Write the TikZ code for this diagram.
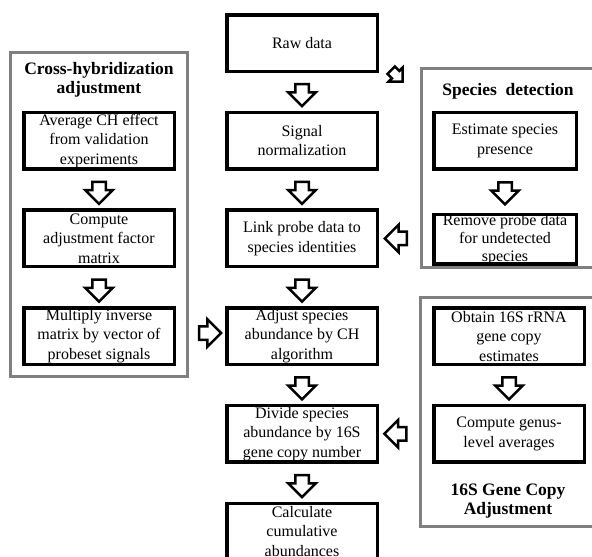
\documentclass[tikz,border=0pt]{standalone}
\usepackage{fontspec}
\setmainfont{Liberation Serif}
\usetikzlibrary{positioning,calc,fit,shapes.arrows}
\definecolor{framegray}{RGB}{128,128,128}

\begin{document}
\begin{tikzpicture}[x=1pt, y=-1pt, node distance=37.7pt and 49pt,
		font=\fontsize{16}{19.5}\selectfont,
		procbox/.style={draw=black, rectangle, line width=3.5pt, minimum width=150.5pt, minimum height=56.5pt, inner sep=0pt, align=center},
		groupframe/.style={draw=framegray, rectangle, line width=3pt, inner sep=0pt},
		grouptitle/.style={draw=none, align=center, font=\fontsize{17.5}{19.5}\selectfont\bfseries},
		blockarrow/.style={single arrow, draw=black, fill=white, line width=2.5pt, minimum height=22pt, inner xsep=0pt, inner ysep=5.5pt, single arrow head extend=7pt},
		smallarrow/.style={blockarrow, minimum height=16pt, inner ysep=4pt, single arrow head extend=4.5pt}
		]
		\clip (0,0) rectangle (592,557);
		
		% main column
		\node[procbox](raw) at (302,43) {Raw data};
		\node[procbox](sig) [below=of raw] {Signal\\normalization};
		\node[procbox](link) [below=of sig] {Link probe data to\\species identities};
		\node[procbox](adj) [below=of link] {Adjust species\\abundance by CH\\algorithm};
		\node[procbox](div) [below=of adj] {Divide species\\abundance by 16S\\gene copy number};
		\node[procbox](calc) [below=of div] {Calculate\\cumulative\\abundances};
		
		% cross-hybridization
		\node[groupframe, fit={(10,52) (187,376)}] (chframe) {};
		\node[grouptitle](chtitle) at (99,80) {Cross-hybridization\\adjustment};
		\node[procbox](avg) [left=of sig] {Average CH effect\\from validation\\experiments};
		\node[procbox](comp) [below=of avg] {Compute\\adjustment factor\\matrix};
		\node[procbox](mult) [below=of comp] {Multiply inverse\\matrix by vector of\\probeset signals};
		
		% species detection
		\node[groupframe, fit={(421,68) (600,267)}] (sdframe) {};
		\node[grouptitle](sdtitle) at (508,91) {Species\ \ detection};
		\node[procbox, minimum width=142.5pt](est) [right=of sig, xshift=4pt] {Estimate species\\presence};
		\node[procbox, minimum width=142.5pt, minimum height=49.5pt, label={[align=center, font=\fontsize{16}{18}\selectfont]center:Remove probe data\\for undetected\\species}](rem) [below=of est, yshift=-4.3pt] {};
		
		% 16S copy number
		\node[groupframe, fit={(420,297) (600,526)}] (cnframe) {};
		\node[grouptitle](cntitle) at (508,501) {16S Gene Copy\\Adjustment};
		\node[procbox](obt) [right=of adj, xshift=4pt] {Obtain 16S rRNA\\gene copy\\estimates};
		\node[procbox](cgen) [below=of obt] {Compute genus-\\level averages};
		
		% block arrows
		\foreach \a/\b in {raw/sig, sig/link, link/adj, adj/div, div/calc, avg/comp, comp/mult, est/rem, obt/cgen}
			\node[blockarrow, rotate=-90](arr-\a) at ($(\a)!0.5!(\b)$) {};
		\node[smallarrow, rotate=-45](arr-sd) at ($(raw.south east)!0.5!(sdframe.north west)$) [yshift=-6pt] {};
		\node[blockarrow, rotate=180](arr-rem) at ($(link.east)!0.5!(sdframe.west |- link)$) {};
		\node[blockarrow](arr-mult) at ($(chframe.east |- adj)!0.5!(adj.west)$) [yshift=3pt] {};
		\node[blockarrow, rotate=180](arr-cgen) at ($(div.east)!0.5!(cnframe.west |- div)$) {};
\end{tikzpicture}
\end{document}
